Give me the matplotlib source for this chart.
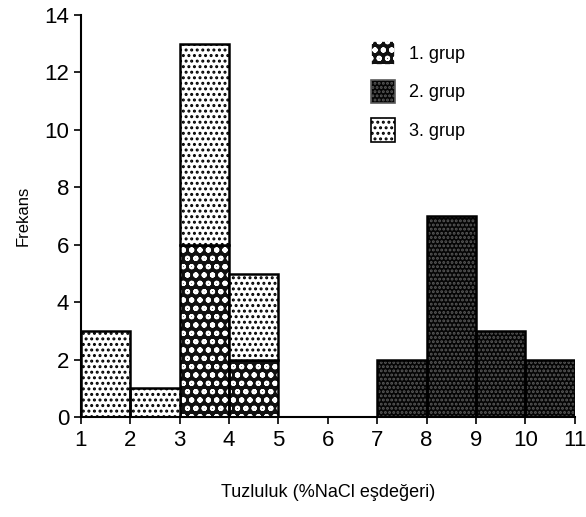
import numpy as np
import matplotlib.pyplot as plt
from matplotlib.patches import Patch

# bin edges (left) and counts for each group
bin_left = [1, 2, 3, 4, 5, 6, 7, 8, 9, 10]
grup1 = [0, 0, 6, 2, 0, 0, 0, 0, 0, 0]
grup2 = [0, 0, 0, 0, 0, 0, 2, 7, 3, 2]
grup3 = [3, 1, 7, 3, 0, 0, 0, 0, 0, 0]
labels = ["1. grup", "2. grup", "3. grup"]

plt.rcParams['font.family'] = ['Liberation Sans', 'DejaVu Sans']
plt.rcParams['hatch.linewidth'] = 1.4

fig = plt.figure(figsize=(5.86, 5.17), dpi=100)
ax = fig.add_axes([0.138, 0.193, 0.843, 0.778])

x = np.array(bin_left)
g1 = np.array(grup1)
g2 = np.array(grup2)
g3 = np.array(grup3)

styles = [
    dict(facecolor="#111111", edgecolor="white", hatch="oo"),
    dict(facecolor="#050505", edgecolor="#5a5a5a", hatch="...."),
    dict(facecolor="white", edgecolor="black", hatch="..."),
]

bottoms = [np.zeros(len(x)), g1, g1 + g2]
for vals, bot, st in zip([g1, g2, g3], bottoms, styles):
    m = vals > 0
    ax.bar(x[m], vals[m], width=1, bottom=bot[m], align="edge",
           linewidth=0, **st)
    ax.bar(x[m], vals[m], width=1, bottom=bot[m], align="edge",
           fill=False, edgecolor="black", linewidth=1.8)

ax.set_xlim(1, 11)
ax.set_ylim(0, 14)
ax.set_xticks(range(1, 12))
ax.set_yticks(range(0, 15, 2))
ax.spines["top"].set_visible(False)
ax.spines["right"].set_visible(False)
ax.spines["left"].set_linewidth(1.5)
ax.spines["bottom"].set_linewidth(1.5)
ax.tick_params(direction="out", length=5, width=1.2, labelsize=16)
ax.tick_params(axis="x", pad=4)

ax.set_xlabel("Tuzluluk (%NaCl eşdeğeri)", fontsize=13, labelpad=24)
ax.set_ylabel("Frekans", fontsize=12, labelpad=10)

handles = [Patch(label=l, linewidth=1.2, **s) for l, s in zip(labels, styles)]
ax.legend(handles=handles, loc="upper left", bbox_to_anchor=(0.555, 0.975),
          frameon=False, fontsize=13, handlelength=1.3, handleheight=1.6,
          labelspacing=0.85, handletextpad=0.8)

fig.savefig("out.png", dpi=100)
plt.close(fig)
